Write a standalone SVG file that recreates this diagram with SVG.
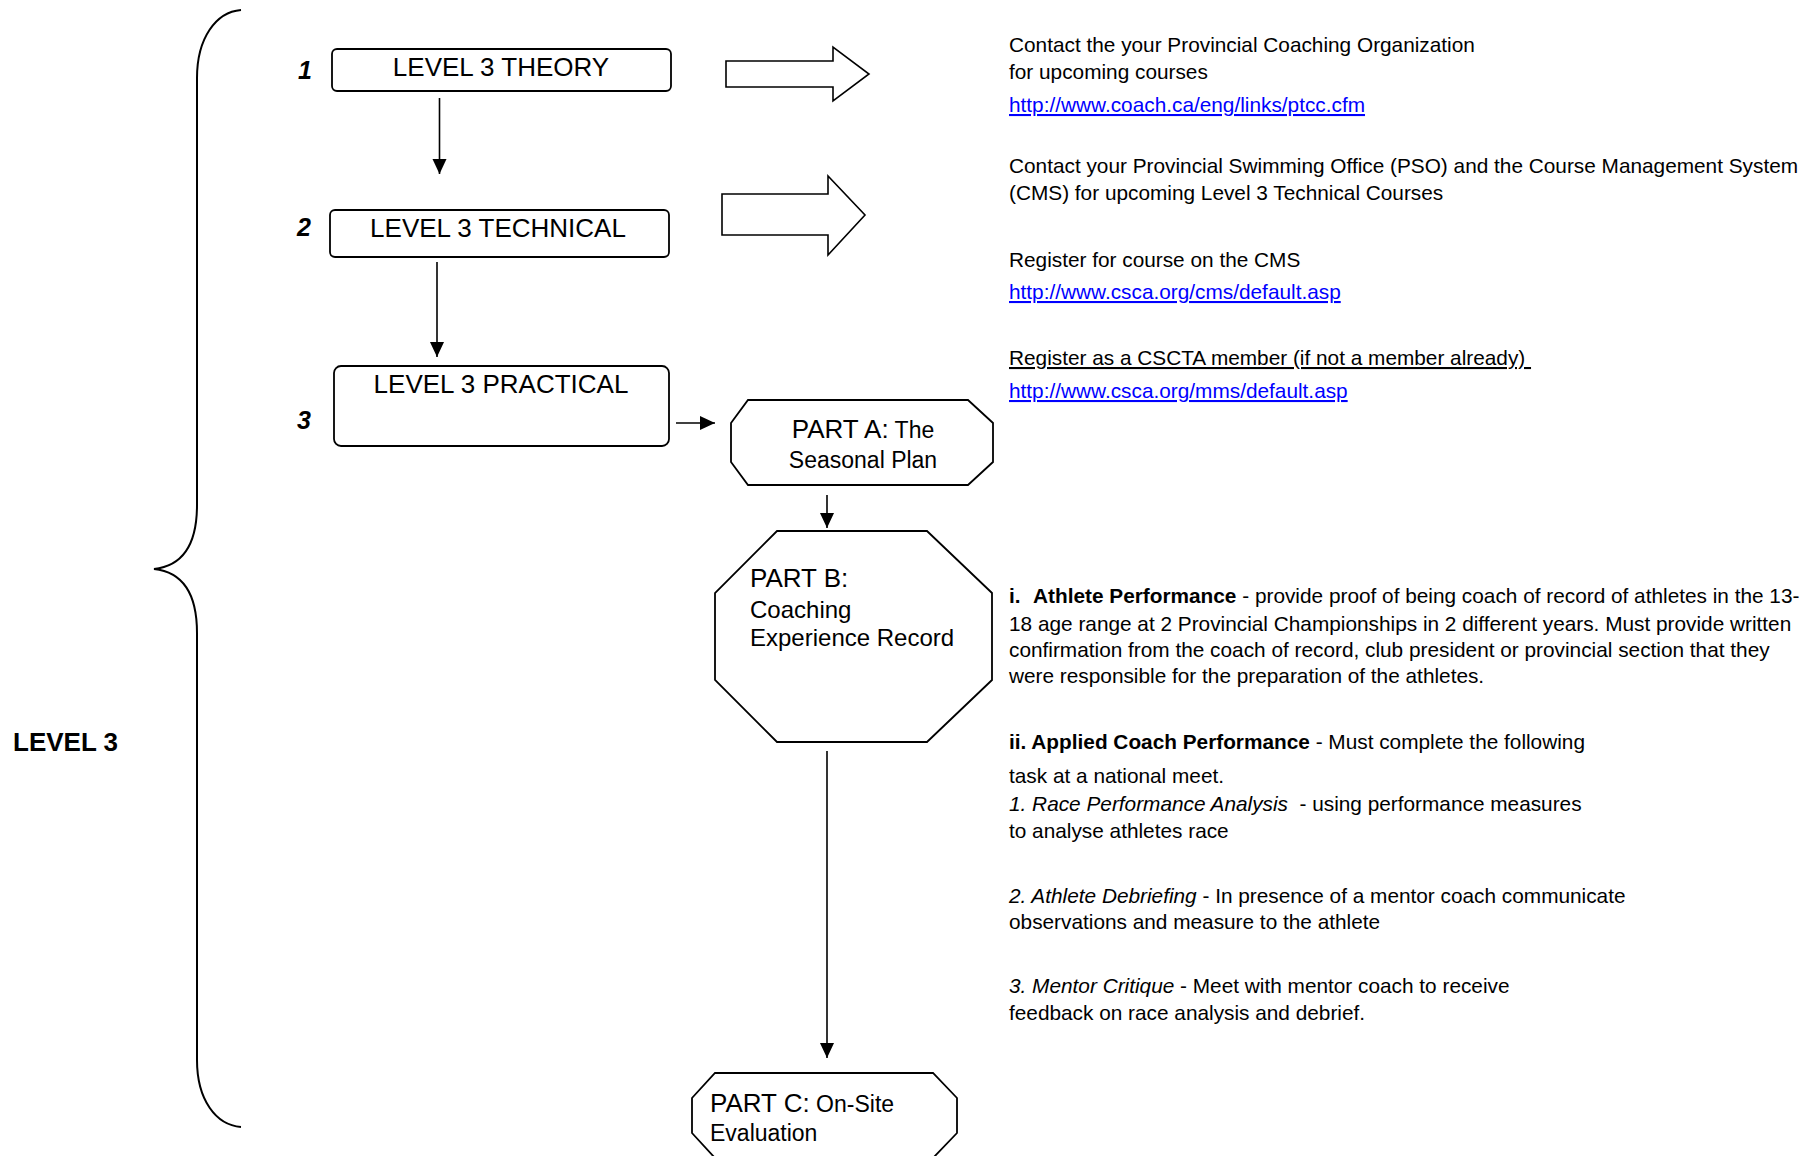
<svg xmlns="http://www.w3.org/2000/svg" width="1818" height="1156" viewBox="0 0 1818 1156">
<defs>
<style>
text{font-family:"Liberation Sans",Arial,sans-serif;fill:#000}
.box{fill:#fff;stroke:#000;stroke-width:1.8}
.lbl{font-size:26px}
.num{font-size:25px;font-weight:bold;font-style:italic}
.body{font-size:20.8px}
.link{font-size:20.8px;fill:#0000ff;text-decoration:underline}
.conn{stroke:#000;stroke-width:1.6;fill:none}
.big{font-size:26px}
.sm{font-size:23px}
</style>
<marker id="ah" markerUnits="userSpaceOnUse" markerWidth="16" markerHeight="16" viewBox="0 0 16 16" refX="15" refY="8" orient="auto">
<path d="M0,1 L15,8 L0,15 Z" fill="#000"/>
</marker>
</defs>
<rect width="1818" height="1156" fill="#fff"/>

<g id="brace">
<path d="M241,10 C216,12 197,38 197,78 L197,505 C197,545 182,566 154,569 C182,572 197,593 197,633 L197,1060 C197,1100 216,1125 241,1127" fill="none" stroke="#000" stroke-width="2"/>
<text x="13" y="751" style="font-size:26px;font-weight:bold">LEVEL 3</text>
</g>

<g id="connectors">
<line class="conn" x1="439.5" y1="98" x2="439.5" y2="174" marker-end="url(#ah)"/>
<line class="conn" x1="437" y1="262" x2="437" y2="357" marker-end="url(#ah)"/>
<line class="conn" x1="676" y1="423" x2="715" y2="423" marker-end="url(#ah)"/>
<line class="conn" x1="827" y1="495" x2="827" y2="528" marker-end="url(#ah)"/>
<line class="conn" x1="827" y1="751" x2="827" y2="1058" marker-end="url(#ah)"/>
<polygon points="726,61 833,61 833,47 869,74 833,101 833,87 726,87" fill="#fff" stroke="#000" stroke-width="1.6"/>
<polygon points="722,194 828,194 828,176 865,215 828,255 828,235 722,235" fill="#fff" stroke="#000" stroke-width="1.6"/>
</g>

<g id="theory">
<text class="num" x="298" y="79">1</text>
<rect class="box" x="332" y="49" width="339" height="42" rx="5"/>
<text class="lbl" x="501" y="76" text-anchor="middle">LEVEL 3 THEORY</text>
</g>

<g id="technical">
<text class="num" x="297" y="236">2</text>
<rect class="box" x="330" y="210" width="339" height="47" rx="5"/>
<text class="lbl" x="498" y="237" text-anchor="middle">LEVEL 3 TECHNICAL</text>
</g>

<g id="practical">
<text class="num" x="297" y="429">3</text>
<rect class="box" x="334" y="366" width="335" height="80" rx="7"/>
<text class="lbl" x="501" y="393" text-anchor="middle">LEVEL 3 PRACTICAL</text>
</g>

<g id="partA">
<polygon class="box" points="748,400 968,400 993,423 993,462 968,485 748,485 731,462 731,423"/>
<text x="863" y="438" text-anchor="middle"><tspan class="big">PART A:</tspan><tspan class="sm"> The</tspan></text>
<text class="sm" x="863" y="468" text-anchor="middle">Seasonal Plan</text>
</g>

<g id="partB">
<polygon class="box" points="777,531 927,531 992,593 992,680 927,742 777,742 715,680 715,593"/>
<text class="big" x="750" y="587">PART B:</text>
<text style="font-size:24px" x="750" y="618">Coaching</text>
<text style="font-size:24px" x="750" y="646">Experience Record</text>
</g>

<g id="partC">
<polygon class="box" points="715,1073 933,1073 957,1098 957,1133 933,1158 715,1158 692,1133 692,1098"/>
<text x="710" y="1112"><tspan class="big">PART C:</tspan><tspan class="sm"> On-Site</tspan></text>
<text class="sm" x="710" y="1141">Evaluation</text>
</g>

<g id="info-top">
<text class="body" x="1009" y="52">Contact the your Provincial Coaching Organization</text>
<text class="body" x="1009" y="79">for upcoming courses</text>
<text class="link" x="1009" y="112">http://www.coach.ca/eng/links/ptcc.cfm</text>
<text class="body" x="1009" y="173">Contact your Provincial Swimming Office (PSO) and the Course Management System</text>
<text class="body" x="1009" y="200">(CMS) for upcoming Level 3 Technical Courses</text>
<text class="body" x="1009" y="267">Register for course on the CMS</text>
<text class="link" x="1009" y="299">http://www.csca.org/cms/default.asp</text>
<text class="body" x="1009" y="365" xml:space="preserve" style="text-decoration:underline">Register as a CSCTA member (if not a member already) </text>
<text class="link" x="1009" y="398">http://www.csca.org/mms/default.asp</text>
</g>

<g id="info-bottom">
<text class="body" x="1009" y="603"><tspan font-weight="bold">i.</tspan><tspan x="1033" font-weight="bold">Athlete Performance</tspan> - provide proof of being coach of record of athletes in the 13-</text>
<text class="body" x="1009" y="631">18 age range at 2 Provincial Championships in 2 different years. Must provide written</text>
<text class="body" x="1009" y="657">confirmation from the coach of record, club president or provincial section that they</text>
<text class="body" x="1009" y="683">were responsible for the preparation of the athletes.</text>
<text class="body" x="1009" y="749"><tspan font-weight="bold">ii. Applied Coach Performance</tspan> - Must complete the following</text>
<text class="body" x="1009" y="783">task at a national meet.</text>
<text class="body" x="1009" y="811" xml:space="preserve"><tspan font-style="italic">1. Race Performance Analysis</tspan>  - using performance measures</text>
<text class="body" x="1009" y="838">to analyse athletes race</text>
<text class="body" x="1009" y="903"><tspan font-style="italic">2. Athlete Debriefing</tspan> - In presence of a mentor coach communicate</text>
<text class="body" x="1009" y="929">observations and measure to the athlete</text>
<text class="body" x="1009" y="993" xml:space="preserve"><tspan font-style="italic">3. Mentor Critique</tspan> - Meet with mentor coach to receive</text>
<text class="body" x="1009" y="1020">feedback on race analysis and debrief.</text>
</g>
</svg>
